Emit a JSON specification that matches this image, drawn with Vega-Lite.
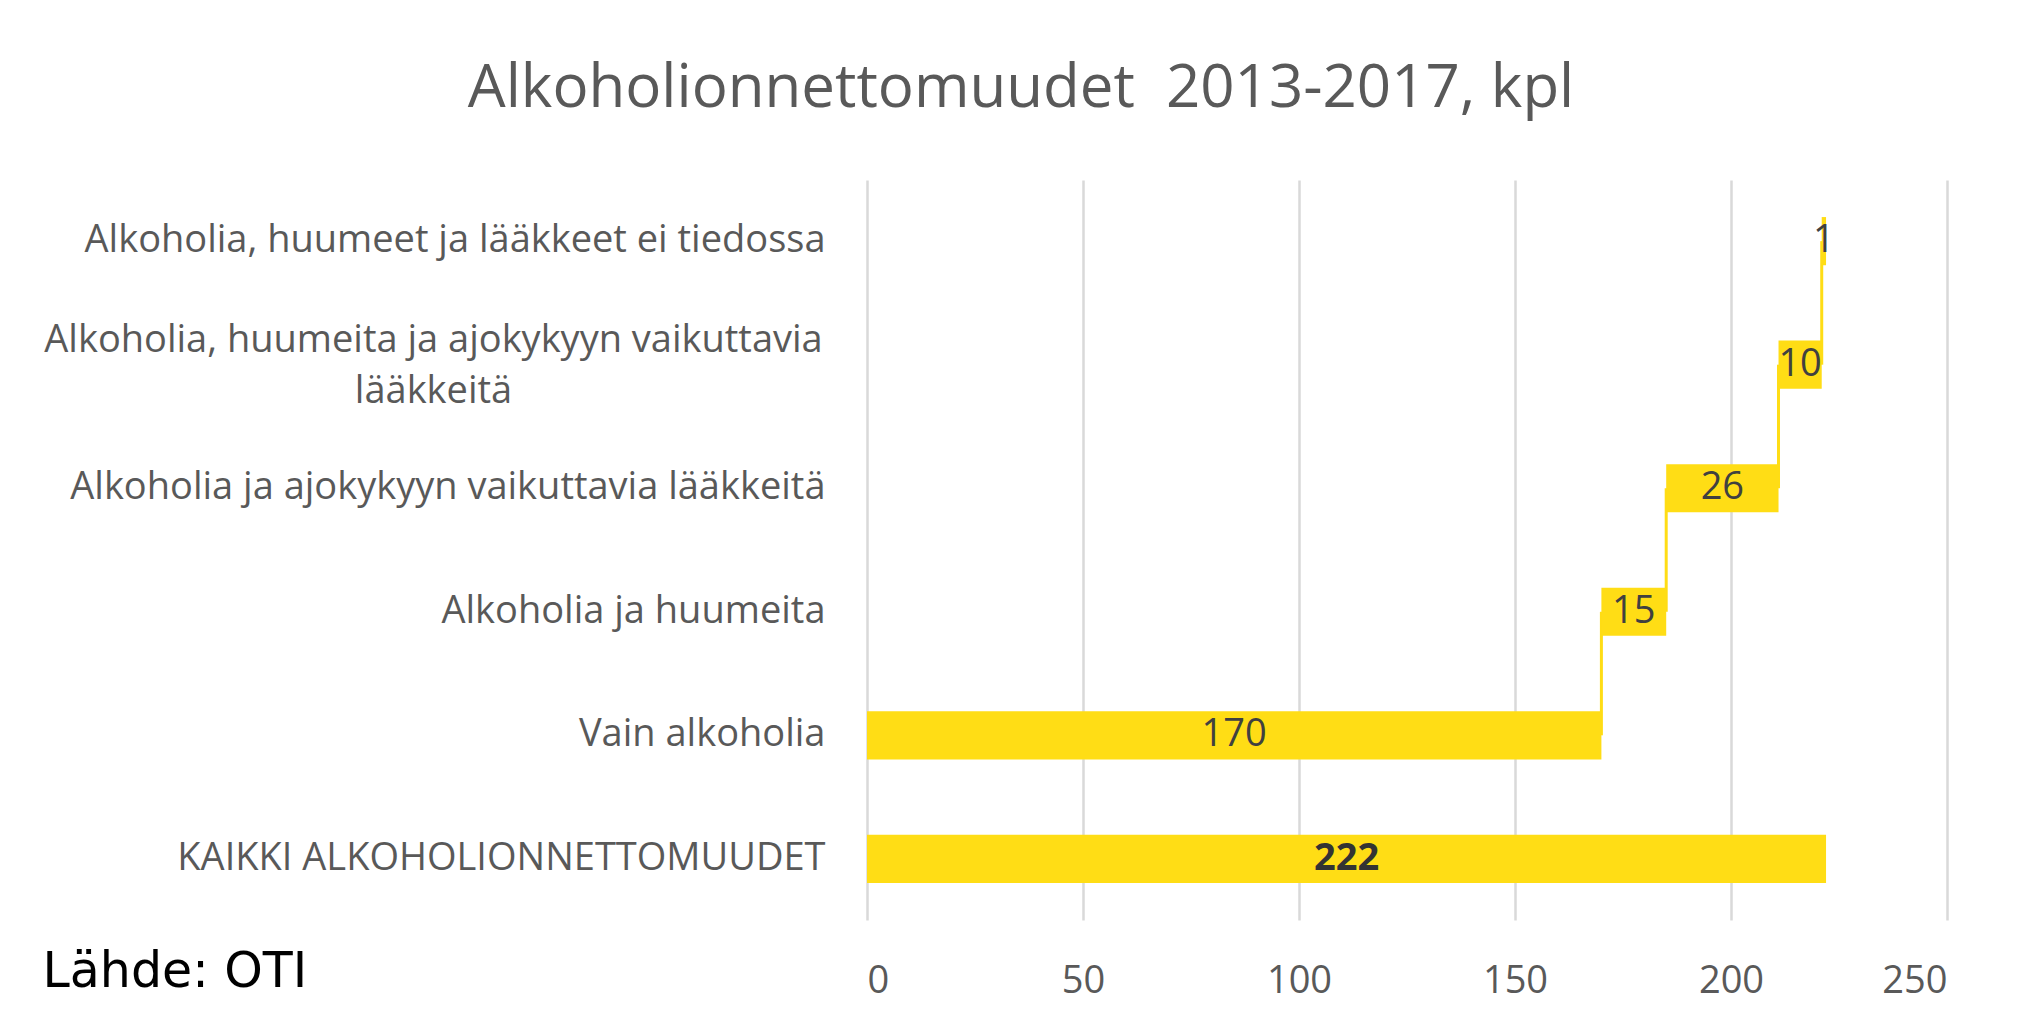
{
  "$schema": "https://vega.github.io/schema/vega-lite/v6.json",
  "width": 1080,
  "height": 740,
  "autosize": {"type": "none"},
  "padding": {"left": 867, "top": 180, "right": 79, "bottom": 106},
  "background": "white",
  "title": {
    "text": "Alkoholionnettomuudet\u00a0 2013-2017, kpl",
    "font": "Open Sans",
    "fontSize": 60,
    "fontWeight": "normal",
    "color": "#595959",
    "anchor": "middle",
    "frame": "group",
    "dx": -386,
    "baseline": "alphabetic",
    "offset": 13
  },
  "config": {"view": {"stroke": null}, "font": "Open Sans"},
  "datasets": {
    "bars": [
      {"category": "Alkoholia, huumeet ja lääkkeet ei tiedossa", "start": 221, "end": 222, "value": 1, "total": false},
      {"category": "Alkoholia, huumeita ja ajokykyyn vaikuttavia lääkkeitä", "start": 211, "end": 221, "value": 10, "total": false},
      {"category": "Alkoholia ja ajokykyyn vaikuttavia lääkkeitä", "start": 185, "end": 211, "value": 26, "total": false},
      {"category": "Alkoholia ja huumeita", "start": 170, "end": 185, "value": 15, "total": false},
      {"category": "Vain alkoholia", "start": 0, "end": 170, "value": 170, "total": false},
      {"category": "KAIKKI ALKOHOLIONNETTOMUUDET", "start": 0, "end": 222, "value": 222, "total": true}
    ],
    "links": [
      {"at": 170, "upper": "Alkoholia ja huumeita", "lower": "Vain alkoholia"},
      {"at": 185, "upper": "Alkoholia ja ajokykyyn vaikuttavia lääkkeitä", "lower": "Alkoholia ja huumeita"},
      {"at": 211, "upper": "Alkoholia, huumeita ja ajokykyyn vaikuttavia lääkkeitä", "lower": "Alkoholia ja ajokykyyn vaikuttavia lääkkeitä"},
      {"at": 221, "upper": "Alkoholia, huumeet ja lääkkeet ei tiedossa", "lower": "Alkoholia, huumeita ja ajokykyyn vaikuttavia lääkkeitä"}
    ]
  },
  "layer": [
    {
      "data": {"name": "links"},
      "mark": {"type": "rule", "color": "#FFDD15", "strokeWidth": 3},
      "encoding": {
        "x": {
          "field": "at",
          "type": "quantitative",
          "scale": {"domain": [0, 250], "nice": false, "zero": true},
          "axis": {
            "values": [0, 50, 100, 150, 200, 250],
            "domain": false,
            "ticks": false,
            "grid": true,
            "gridColor": "#d9d9d9",
            "gridWidth": 2.5,
            "labelFont": "Open Sans",
            "labelFontSize": 38,
            "labelColor": "#595959",
            "labelPadding": 42,
            "title": "Lähde: OTI",
            "titleFont": "DejaVu Sans",
            "titleFontSize": 49,
            "titleFontWeight": "normal",
            "titleColor": "#000000",
            "titleAlign": "left",
            "titleAnchor": "start",
            "titleBaseline": "alphabetic",
            "titleX": -825,
            "titleY": 66
          }
        },
        "y": {
          "field": "upper",
          "type": "nominal",
          "scale": {
            "domain": [
              "Alkoholia, huumeet ja lääkkeet ei tiedossa",
              "Alkoholia, huumeita ja ajokykyyn vaikuttavia lääkkeitä",
              "Alkoholia ja ajokykyyn vaikuttavia lääkkeitä",
              "Alkoholia ja huumeita",
              "Vain alkoholia",
              "KAIKKI ALKOHOLIONNETTOMUUDET"
            ],
            "paddingInner": 0.61,
            "paddingOuter": 0.3
          },
          "axis": {
            "title": null,
            "domain": false,
            "ticks": false,
            "labelFont": "Open Sans",
            "labelFontSize": 38,
            "labelColor": "#595959",
            "labelAlign": {"condition": {"test": "datum.value == 'Alkoholia, huumeita ja ajokykyyn vaikuttavia lääkkeitä'", "value": "center"}, "value": "right"},
            "labelPadding": {"condition": {"test": "datum.value == 'Alkoholia, huumeita ja ajokykyyn vaikuttavia lääkkeitä'", "value": 434}, "value": 42},
            "labelOffset": {"condition": {"test": "datum.value == 'Alkoholia, huumeita ja ajokykyyn vaikuttavia lääkkeitä'", "value": -24}, "value": 0},
            "labelLimit": 0,
            "labelLineHeight": 51,
            "labelExpr": "datum.value == 'Alkoholia, huumeita ja ajokykyyn vaikuttavia lääkkeitä' ? ['Alkoholia, huumeita ja ajokykyyn vaikuttavia', 'lääkkeitä'] : datum.label"
          }
        },
        "y2": {"field": "lower"}
      }
    },
    {
      "data": {"name": "bars"},
      "mark": {"type": "bar", "color": "#FFDD15"},
      "encoding": {
        "x": {"field": "start", "type": "quantitative"},
        "x2": {"field": "end"},
        "y": {"field": "category", "type": "nominal"}
      }
    },
    {
      "data": {"name": "bars"},
      "transform": [
        {"filter": "!datum.total"},
        {"calculate": "(datum.start + datum.end) / 2", "as": "mid"}
      ],
      "mark": {"type": "text", "font": "Open Sans", "fontSize": 38, "color": "#404040", "align": "center", "baseline": "middle"},
      "encoding": {
        "x": {"field": "mid", "type": "quantitative"},
        "y": {"field": "category", "type": "nominal"},
        "text": {"field": "value", "type": "quantitative"}
      }
    },
    {
      "data": {"name": "bars"},
      "transform": [
        {"filter": "datum.total"},
        {"calculate": "(datum.start + datum.end) / 2", "as": "mid"}
      ],
      "mark": {"type": "text", "font": "Open Sans", "fontSize": 38, "fontWeight": "bold", "color": "#333333", "align": "center", "baseline": "middle"},
      "encoding": {
        "x": {"field": "mid", "type": "quantitative"},
        "y": {"field": "category", "type": "nominal"},
        "text": {"field": "value", "type": "quantitative"}
      }
    }
  ]
}
